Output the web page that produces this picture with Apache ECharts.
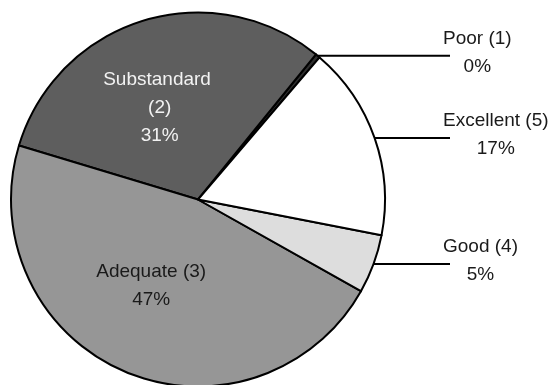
<!DOCTYPE html>
<html>
<head>
<meta charset="utf-8">
<script src="https://cdn.jsdelivr.net/npm/echarts@6/dist/echarts.min.js"></script>
<style>
  html, body { margin: 0; padding: 0; background: #ffffff; }
  #chart { width: 556px; height: 385px; }
</style>
</head>
<body>
<div id="chart"></div>
<script>
// Rating categories (scale code in parentheses) and their share of responses, in percent
const categories = ['Poor (1)', 'Substandard (2)', 'Adequate (3)', 'Good (4)', 'Excellent (5)'];
const shares = [0.4, 31.2, 46.5, 5.1, 16.8];

// Slice fills, one per category
const sliceColors = ['#2e2e2e', '#5e5e5e', '#969696', '#dddddd', '#ffffff'];

// Categories labelled inside their slice, and the nudge applied to those labels
const insideLabels = ['Substandard (2)', 'Adequate (3)'];
const insideLabelShift = { 'Substandard (2)': [-10, 1], 'Adequate (3)': [-9, -3] };

const FONT = '"Liberation Sans", Arial, sans-serif';
const CX = 198, CY = 199.5, R = 187;
const TEXT_LEFT = CX + R + 58;   // left edge of the outside label column
const LINE_END = TEXT_LEFT + 7;  // where the leader lines stop

const data = categories.map((name, i) => {
  const inside = insideLabels.includes(name);
  const label = inside
    ? { position: 'inside', color: i === 1 ? '#f2f2f2' : '#1a1a1a' }
    : { position: 'outside', color: '#1a1a1a' };
  if (i === 1) { label.width = 120; label.overflow = 'break'; }
  return {
    name: name,
    value: shares[i],
    itemStyle: { color: sliceColors[i] },
    label: label,
    labelLine: { show: !inside }
  };
});

const chart = echarts.init(document.getElementById('chart'), null, { renderer: 'canvas' });

chart.setOption({
  animation: false,
  backgroundColor: '#ffffff',
  series: [{
    type: 'pie',
    center: [CX, CY],
    radius: R,
    startAngle: 49.46,
    clockwise: false,
    percentPrecision: 0,
    avoidLabelOverlap: false,
    silent: true,
    itemStyle: { borderColor: '#000000', borderWidth: 2 },
    label: {
      formatter: '{b}\n{d}%',
      fontFamily: FONT,
      fontSize: 19,
      lineHeight: 28,
      align: 'center'
    },
    labelLine: {
      length: 10,
      length2: 20,
      lineStyle: { color: '#000000', width: 2 }
    },
    labelLayout: function (p) {
      const name = categories[p.dataIndex];
      if (insideLabels.includes(name)) {
        const s = insideLabelShift[name];
        return { dx: s[0], dy: s[1] };
      }
      const pts = p.labelLinePoints;
      const ex = pts[0][0], ey = pts[0][1];
      return {
        x: TEXT_LEFT + p.labelRect.width / 2,
        y: ey - 3,
        align: 'center',
        verticalAlign: 'middle',
        labelLinePoints: [[ex, ey], [LINE_END, ey], [LINE_END, ey]]
      };
    },
    data: data
  }]
});
</script>
</body>
</html>
